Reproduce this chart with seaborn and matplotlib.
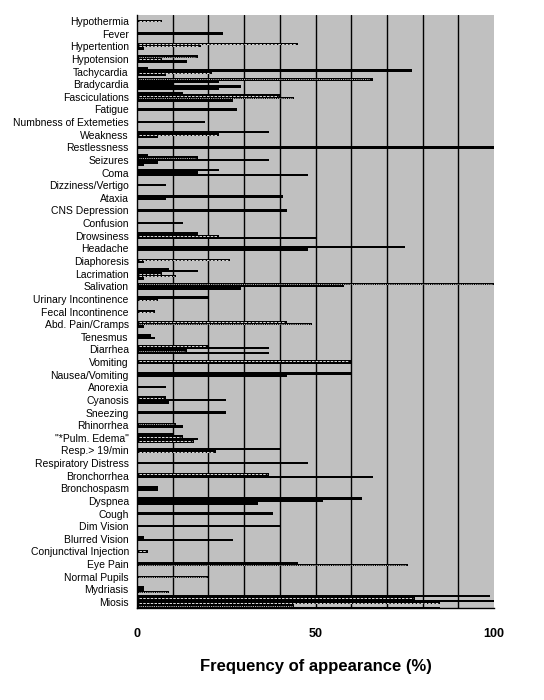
import matplotlib
matplotlib.use("Agg")
import matplotlib.pyplot as plt
import seaborn as sns

sns.set_style("white")
plt.rcParams['font.family'] = ['Liberation Sans', 'DejaVu Sans']
plt.rcParams['text.color'] = 'black'
plt.rcParams['xtick.color'] = 'black'
plt.rcParams['ytick.color'] = 'black'
plt.rcParams['axes.labelcolor'] = 'black'

categories = ["Hypothermia", "Fever", "Hypertention", "Hypotension", "Tachycardia", "Bradycardia",
              "Fasciculations", "Fatigue", "Numbness of Extemeties", "Weakness", "Restlessness",
              "Seizures", "Coma", "Dizziness/Vertigo", "Ataxia", "CNS Depression", "Confusion",
              "Drowsiness", "Headache", "Diaphoresis", "Lacrimation", "Salivation",
              "Urinary Incontinence", "Fecal Incontinence", "Abd. Pain/Cramps", "Tenesmus",
              "Diarrhea", "Vomiting", "Nausea/Vomiting", "Anorexia", "Cyanosis", "Sneezing",
              "Rhinorrhea", "\"*Pulm. Edema\"", "Resp.> 19/min", "Respiratory Distress",
              "Bronchorrhea", "Bronchospasm", "Dyspnea", "Cough", "Dim Vision", "Blurred Vision",
              "Conjunctival Injection", "Eye Pain", "Normal Pupils", "Mydriasis", "Miosis"]

# per-category bar values (top to bottom) and styles: s=solid, d=dashed, o=dotted
values = [[7], [24], [45, 18, 2], [17, 7, 14], [3, 77, 21, 8], [66, 23, 10, 29, 23],
          [13, 40, 44, 27], [28], [19], [37, 23, 6], [100],
          [3, 17, 37, 6, 2], [23, 17, 48], [8], [41, 8], [42], [13],
          [17, 23, 50], [75, 48], [26, 2], [9, 17, 7, 11, 2], [100, 58, 29],
          [20, 6], [5], [42, 49, 2], [4, 5],
          [20, 37, 14, 37], [60, 60], [60, 42], [8], [8, 25, 9], [25],
          [11, 13], [10, 13, 17, 16], [40, 22], [48],
          [37, 66], [6, 6], [63, 52, 34], [38], [40], [2, 27],
          [3], [45, 76], [20], [2, 2, 9], [99, 78, 100, 85, 44, 85]]
styles = ["d", "s", "dds", "ods", "ssds", "osssss",
          "sdos", "s", "s", "sds", "s",
          "sosss", "sss", "s", "ss", "s", "s",
          "sds", "ss", "ds", "ssdds", "oss",
          "sd", "d", "dos", "ss",
          "dsos", "ds", "ss", "s", "dss", "s",
          "os", "sdsd", "sd", "s",
          "ds", "ss", "sss", "s", "s", "ss",
          "d", "so", "o", "sso", "sdsdos"]

fig = plt.figure(figsize=(5.44, 7.0), dpi=100)
ax = fig.add_axes([0.252, 0.131, 0.656, 0.848])
ax.set_facecolor("#c0c0c0")

h = 0.19
for i, (vals, sty) in enumerate(zip(values, styles)):
    n = len(vals)
    for j, (v, s) in enumerate(zip(vals, sty)):
        y = i - (n - 1) / 2 * h + j * h
        ax.barh(y, v, height=h, color="black", edgecolor="black", linewidth=0, zorder=3)
        if s == "d":
            ax.plot([0.6, v - 0.6], [y, y], color="white", lw=0.6, ls=(0, (3, 1.5)), zorder=4)
        elif s == "o":
            ax.plot([0.6, v - 0.6], [y, y], color="white", lw=0.6, ls=(0, (1, 1.2)), zorder=4)

ax.set_ylim(len(categories) - 0.5, -0.5)
ax.set_xlim(0, 100)
for gx in range(10, 100, 10):
    ax.axvline(gx, color="black", lw=1, zorder=2)
ax.set_yticks(range(len(categories)))
ax.set_yticklabels(categories, fontsize=7.5)
ax.set_yticks([k + 0.5 for k in range(len(categories) - 1)], minor=True)
ax.tick_params(axis="y", which="major", length=0, pad=6)
ax.tick_params(axis="y", which="minor", length=3, color="black", direction="out")
ax.set_xticks([0, 50, 100])
ax.set_xticklabels(["0", "50", "100"], fontsize=9, fontweight="bold")
ax.tick_params(axis="x", length=4, color="black", direction="out", pad=10)
for sp in ["top", "right"]:
    ax.spines[sp].set_visible(False)
for sp in ["left", "bottom"]:
    ax.spines[sp].set_color("black")
    ax.spines[sp].set_linewidth(1)
ax.set_xlabel("Frequency of appearance (%)", fontsize=12, fontweight="bold", labelpad=14)

fig.savefig("out.png", dpi=100)
